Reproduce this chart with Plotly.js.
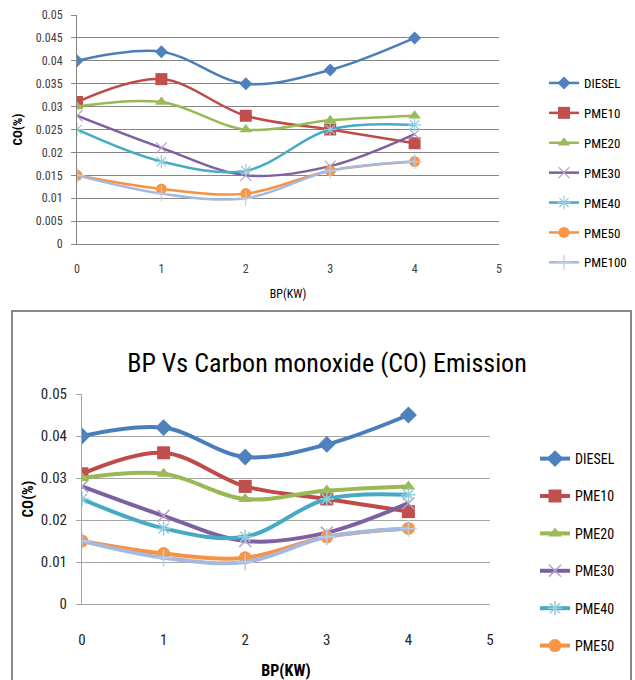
<!DOCTYPE html>
<html>
<head>
<meta charset="utf-8">
<script src="https://cdn.plot.ly/plotly-3.0.1.min.js"></script>
<style>
html,body{margin:0;padding:0;background:#fff;}
#chart{width:635px;height:680px;}
</style>
</head>
<body>
<div id="chart"></div>
<script>
// ---- data ----
const bp = [0, 1, 2, 3, 4];
const seriesNames = ["DIESEL", "PME10", "PME20", "PME30", "PME40", "PME50", "PME100"];
const diesel = [0.040, 0.042, 0.035, 0.038, 0.045];
const pme10  = [0.031, 0.036, 0.028, 0.025, 0.022];
const pme20  = [0.030, 0.031, 0.025, 0.027, 0.028];
const pme30  = [0.028, 0.021, 0.015, 0.017, 0.024];
const pme40  = [0.025, 0.018, 0.016, 0.025, 0.026];
const pme50  = [0.015, 0.012, 0.011, 0.016, 0.018];
const pme100 = [0.015, 0.011, 0.010, 0.016, 0.018];
const chartTitle = "BP Vs Carbon monoxide (CO) Emission";
const xTitle = "BP(KW)";
const yTitle = "CO(%)";

const values = [diesel, pme10, pme20, pme30, pme40, pme50, pme100];

// ---- styles ----
const FONT = "Liberation Sans Narrow, Arial Narrow, Roboto Condensed, Liberation Sans, sans-serif";
const styles = [
  {line:"#4A7EBB", mk:{symbol:"diamond", color:"#4F81BD"}, sz:[10,13]},
  {line:"#BE4B48", mk:{symbol:"square", color:"#C0504D"}, sz:[12,13]},
  {line:"#98B954", mk:{symbol:"triangle-up", color:"#9BBB59"}, sz:[11,12]},
  {line:"#7D60A0", mk:{symbol:"x-thin", color:"#B3A2C7", lineColor:"#B3A2C7"}, sz:[11,12]},
  {line:"#46AAC5", mk:{symbol:"asterisk", color:"#93CDDD", lineColor:"#93CDDD"}, sz:[11,12]},
  {line:"#F69240", mk:{symbol:"circle", color:"#F79646"}, sz:[11,13]},
  {line:"#A5B8DE", mk:{symbol:"cross-thin", color:"#B9CDE5", lineColor:"#B9CDE5"}, sz:[11,12]}
];

const W = 635, H = 680;
const px = v => v / W;
const py = v => 1 - v / H;

const traces = [];
[0, 1].forEach(chartIdx => {
  seriesNames.forEach((name, i) => {
    const st = styles[i];
    const thin = st.mk.lineColor !== undefined;
    const marker = {
      symbol: st.mk.symbol,
      size: st.sz[chartIdx],
      color: st.mk.color,
      line: thin ? {color: st.mk.lineColor, width: chartIdx ? 1.5 : 1.2} : {width: 0}
    };
    traces.push({
      type: "scatter",
      mode: "lines+markers",
      x: bp,
      y: values[i],
      name: name,
      xaxis: chartIdx ? "x2" : "x",
      yaxis: chartIdx ? "y2" : "y",
      legend: chartIdx ? "legend2" : "legend",
      legendgroup: "g" + chartIdx + "_" + i,
      showlegend: !(chartIdx === 1 && i === 6),
      line: {color: st.line, width: chartIdx ? 4 : 2.5, shape: "spline", smoothing: 1},
      marker: marker
    });
  });
});

const tickFontTop = {family: FONT, size: 12, color: "#404040"};
const tickFontBot = {family: FONT, size: 15, color: "#262626"};

const layout = {
  width: W, height: H,
  margin: {l: 0, r: 0, t: 0, b: 0},
  paper_bgcolor: "#fff",
  plot_bgcolor: "rgba(0,0,0,0)",
  showlegend: true,
  font: {family: FONT, color: "#000"},
  title: {
    text: chartTitle,
    font: {family: FONT, size: 26, color: "#000"},
    x: px(327), xanchor: "center",
    y: py(363), yanchor: "middle"
  },
  xaxis: {
    domain: [px(77), px(499)],
    range: [0, 5], dtick: 1, tick0: 0,
    showgrid: false, zeroline: false,
    showline: true, linecolor: "#868686", linewidth: 1,
    ticks: "", tickfont: tickFontTop, ticklabelstandoff: 14,
    anchor: "y",
    title: {text: xTitle, font: {family: FONT, size: 12, color: "#000"}, standoff: 14}
  },
  yaxis: {
    domain: [py(244), py(15)],
    range: [0, 0.05], dtick: 0.005, tick0: 0,
    showgrid: true, gridcolor: "#868686", gridwidth: 1,
    zeroline: false,
    showline: true, linecolor: "#868686", linewidth: 1,
    ticks: "outside", ticklen: 5, tickcolor: "#868686",
    tickfont: tickFontTop, ticklabelstandoff: 6,
    anchor: "x",
    title: {text: yTitle, font: {family: FONT, size: 13, color: "#000", weight: "bold"}, standoff: 10}
  },
  xaxis2: {
    domain: [px(82), px(490)],
    range: [0, 5], dtick: 1, tick0: 0,
    showgrid: false, zeroline: false,
    showline: true, linecolor: "#A6A6A6", linewidth: 1,
    ticks: "", tickfont: tickFontBot, ticklabelstandoff: 22,
    anchor: "y2",
    title: {text: xTitle, font: {family: FONT, size: 16, color: "#000", weight: "bold"}, standoff: 17}
  },
  yaxis2: {
    domain: [py(604), py(394)],
    range: [0, 0.05], dtick: 0.01, tick0: 0,
    showgrid: true, gridcolor: "#A6A6A6", gridwidth: 1,
    zeroline: false,
    showline: true, linecolor: "#A6A6A6", linewidth: 1,
    ticks: "outside", ticklen: 5, tickcolor: "#A6A6A6",
    tickfont: tickFontBot, ticklabelstandoff: 6,
    anchor: "x2",
    title: {text: yTitle, font: {family: FONT, size: 15, color: "#000", weight: "bold"}, standoff: 3}
  },
  legend: {
    x: px(544), xanchor: "left",
    y: py(68), yanchor: "top",
    font: {family: FONT, size: 13, color: "#000"},
    bgcolor: "rgba(0,0,0,0)",
    tracegroupgap: 10,
    itemwidth: 30
  },
  legend2: {
    x: px(535), xanchor: "left",
    y: py(443), yanchor: "top",
    font: {family: FONT, size: 14, color: "#000"},
    bgcolor: "rgba(0,0,0,0)",
    tracegroupgap: 16.2,
    itemwidth: 30
  },
  shapes: [
    {type: "rect", xref: "paper", yref: "paper",
     x0: px(12), x1: px(631), y0: -0.05, y1: py(311),
     line: {color: "#878787", width: 2}, fillcolor: "rgba(0,0,0,0)", layer: "below"}
  ]
};

Plotly.newPlot("chart", traces, layout, {displayModeBar: false, staticPlot: true});
</script>
</body>
</html>
